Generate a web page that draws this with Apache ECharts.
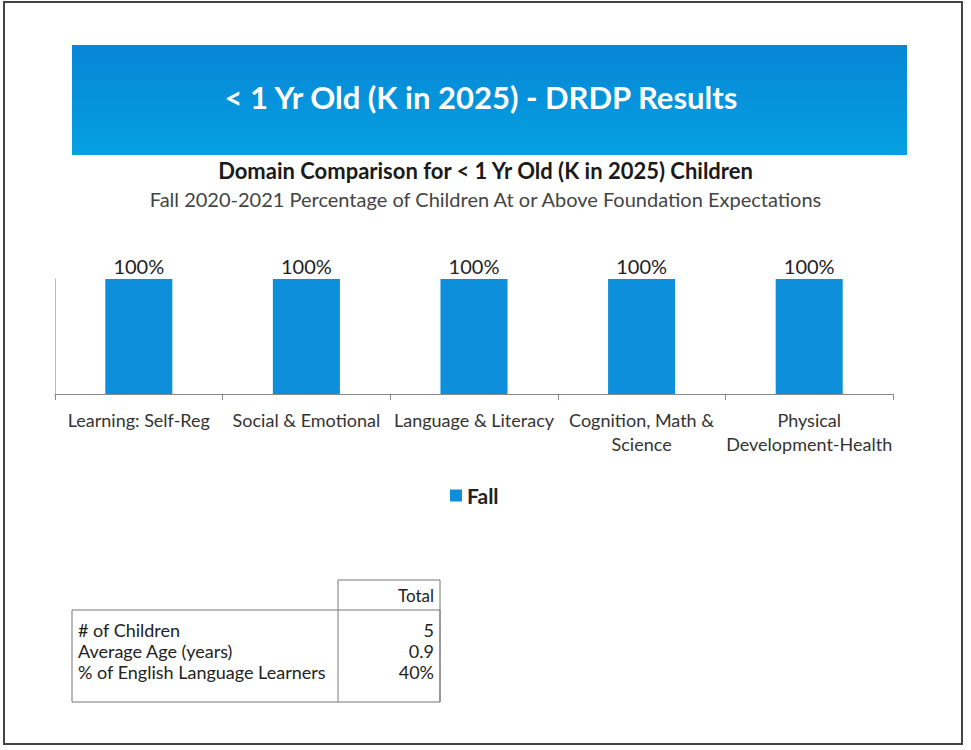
<!DOCTYPE html>
<html>
<head>
<meta charset="utf-8">
<title>DRDP Results</title>
<script src="https://cdn.jsdelivr.net/npm/echarts@6/dist/echarts.min.js"></script>
<style>
  html, body { margin: 0; padding: 0; background: #fff; }
  #chart { width: 971px; height: 750px; }
</style>
</head>
<body>
<div id="chart"></div>
<script>
// --- data ---
const categories = [
  'Learning: Self-Reg',
  'Social & Emotional',
  'Language & Literacy',
  'Cognition, Math &\nScience',
  'Physical\nDevelopment-Health'
];
const fallValues = [100, 100, 100, 100, 100];
const tableHeader = 'Total';
const tableRows = ['# of Children', 'Average Age (years)', '% of English Language Learners'];
const tableValues = ['5', '0.9', '40%'];

const BLUE = '#0d8fdc';
const FONT = 'Lato, "Open Sans", sans-serif';

const chart = echarts.init(document.getElementById('chart'), null, { renderer: 'svg' });

// table built from the arrays above
const tableX = 72, tableY = 580, tableW = 368, splitX = 338, headH = 30, rowH = 21;
const tableEls = [
  { type: 'line', shape: { x1: splitX, y1: tableY, x2: tableX + tableW, y2: tableY }, style: { stroke: '#777', lineWidth: 1 } },
  { type: 'line', shape: { x1: tableX + tableW, y1: tableY, x2: tableX + tableW, y2: 702 }, style: { stroke: '#777', lineWidth: 1 } },
  { type: 'line', shape: { x1: splitX, y1: tableY, x2: splitX, y2: 702 }, style: { stroke: '#777', lineWidth: 1 } },
  { type: 'rect', shape: { x: tableX, y: tableY + headH, width: tableW, height: 702 - tableY - headH }, style: { fill: 'none', stroke: '#777', lineWidth: 1 } },
  { type: 'text', x: 434, y: tableY + 15, style: { text: tableHeader, font: '17px ' + FONT, fill: '#222', align: 'right', verticalAlign: 'middle' } }
];
tableRows.forEach((name, i) => {
  const cy = tableY + headH + 20 + i * rowH;
  tableEls.push({ type: 'text', x: 78, y: cy, style: { text: name, font: '18px ' + FONT, fill: '#222', verticalAlign: 'middle' } });
  tableEls.push({ type: 'text', x: 434, y: cy, style: { text: tableValues[i], font: '18px ' + FONT, fill: '#222', align: 'right', verticalAlign: 'middle' } });
});

const option = {
  backgroundColor: '#fff',
  textStyle: { fontFamily: FONT },
  title: [
    {
      text: 'Domain Comparison for < 1 Yr Old (K in 2025) Children',
      left: 'center', top: 154,
      textStyle: { fontSize: 22, fontWeight: 'bold', color: '#1a1a1a', fontFamily: FONT }
    },
    {
      text: 'Fall 2020-2021 Percentage of Children At or Above Foundation Expectations',
      left: 'center', top: 184,
      textStyle: { fontSize: 20, fontWeight: 'normal', color: '#444', fontFamily: FONT }
    }
  ],
  legend: {
    data: ['Fall'],
    left: 445, top: 480,
    itemWidth: 12, itemHeight: 12, icon: 'rect', itemGap: 6,
    textStyle: { fontSize: 21, fontWeight: 'bold', color: '#222', fontFamily: FONT }
  },
  grid: { left: 55, right: 78, top: 279, bottom: 356 },
  xAxis: {
    type: 'category',
    data: categories,
    axisLine: { lineStyle: { color: '#888' } },
    axisTick: { show: true, length: 6, lineStyle: { color: '#888' } },
    axisLabel: { interval: 0, margin: 14, fontSize: 18, lineHeight: 24, color: '#333', fontFamily: FONT }
  },
  yAxis: {
    type: 'value', min: 0, max: 100,
    axisLine: { show: true, lineStyle: { color: '#bbb' } },
    axisTick: { show: false },
    axisLabel: { show: false },
    splitLine: { show: false }
  },
  series: [{
    name: 'Fall',
    type: 'bar',
    data: fallValues,
    barWidth: '40%',
    itemStyle: { color: BLUE },
    label: {
      show: true, position: 'top', distance: 3,
      formatter: '{c}%', fontSize: 20, color: '#222', fontFamily: FONT
    }
  }],
  graphic: [
    // outer border
    { type: 'rect', shape: { x: 4, y: 2, width: 958, height: 742 }, style: { fill: 'none', stroke: '#444', lineWidth: 2 }, z: 10 },
    // banner
    {
      type: 'rect', shape: { x: 72, y: 45, width: 835, height: 110 },
      style: {
        fill: new echarts.graphic.LinearGradient(0, 0, 0, 1, [
          { offset: 0, color: '#0786d5' },
          { offset: 1, color: '#05a0e2' }
        ])
      }
    },
    {
      type: 'text', x: 481, y: 97,
      style: { text: '< 1 Yr Old (K in 2025) - DRDP Results', font: 'bold 31px ' + FONT, fill: '#fff', align: 'center', verticalAlign: 'middle' }
    },
    ...tableEls
  ]
};

chart.setOption(option);
</script>
</body>
</html>
